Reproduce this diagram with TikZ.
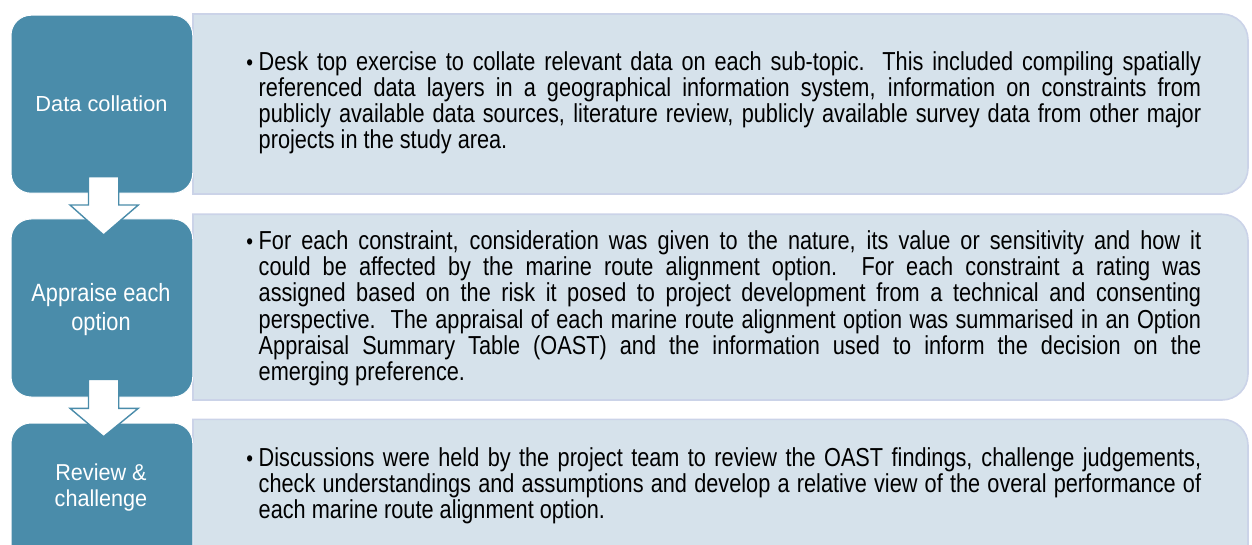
\documentclass[tikz,border=0pt]{standalone}
\usepackage{fontspec}
\setmainfont{Liberation Sans}
\newfontfamily\bodyfont[FakeStretch=0.835]{Liberation Sans}
\newfontfamily\labfontA{Liberation Sans}
\newfontfamily\labfontB[FakeStretch=0.87]{Liberation Sans}
\newfontfamily\labfontC[FakeStretch=0.94]{Liberation Sans}
\definecolor{stepblue}{RGB}{74,140,170}
\definecolor{panelfill}{RGB}{214,226,235}
\definecolor{panelline}{RGB}{203,211,232}
\lineskiplimit=-100pt
\lineskip=0pt
\tikzset{
  stepbox/.style={draw=white, line width=1pt, fill=stepblue, rounded corners=20pt,
    minimum width=181.7pt, minimum height=178pt, inner sep=0pt},
  panel/.style={draw=panelline, line width=1.6pt, fill=panelfill},
  steplabel/.style={text=white, align=center, inner sep=0pt},
  bodytext/.style={anchor=base west, text width=942.5pt, align=justify, inner sep=0pt,
    font=\bodyfont\fontsize{26pt}{#1}\selectfont, text=black},
  downarrow/.style={draw=stepblue, line width=1.4pt, fill=white, line join=miter}
}
\newcommand{\bul}{\leavevmode\lineskiplimit=-100pt\lineskip=0pt\llap{{\fontsize{23pt}{23pt}\selectfont\raisebox{0pt}{•}}\hspace{5.5pt}}}
\begin{document}
\begin{tikzpicture}[x=1pt,y=-1pt]
\useasboundingbox (0,0) rectangle (1252,545);
\clip (0,0) rectangle (1252,545);

% right panels
\path[panel] (193,14) -- (1222,14) arc[start angle=-90,end angle=0,radius=26]
  -- (1248,168) arc[start angle=0,end angle=90,radius=26] -- (193,194) -- cycle;
\path[panel] (193,214.3) -- (1222,214.3) arc[start angle=-90,end angle=0,radius=26]
  -- (1248,374) arc[start angle=0,end angle=90,radius=26] -- (193,400) -- cycle;
\path[panel] (193,419.3) -- (1222,419.3) arc[start angle=-90,end angle=0,radius=26]
  -- (1248,574) arc[start angle=0,end angle=90,radius=26] -- (193,600) -- cycle;

% left step boxes
\node[stepbox] (s1) at (101.9,104.2) {};
\node[stepbox] (s2) at (101.9,308) {};
\node[stepbox] (s3) at (101.9,512) {};

\node[steplabel, anchor=base, font=\labfontA\fontsize{21.8pt}{25pt}\selectfont] (l1) at (101.5,112) {Data collation};
\node[steplabel, font=\labfontB\fontsize{25pt}{28.3pt}\selectfont] (l2) at (101,309.5) {Appraise each\\option};
\node[steplabel, font=\labfontC\fontsize{23pt}{26.7pt}\selectfont] (l3) at (101,487.5) {Review \&\\challenge};

% body texts
\node[bodytext=26pt] (t1) at (258.5,71) {\bul Desk top exercise to collate relevant data on each sub-topic.\ \ This included compiling spatially\linebreak
referenced data layers in a geographical information system, information on constraints from\linebreak
publicly available data sources, literature review, publicly available survey data from other major\linebreak
projects in the study area.};

\node[bodytext=26.2pt] (t2) at (258.5,249.5) {\bul For each constraint, consideration was given to the nature, its value or sensitivity and how it\linebreak
could be affected by the marine route alignment option.\ \ For each constraint a rating was\linebreak
assigned based on the risk it posed to project development from a technical and consenting\linebreak
perspective.\ \ The appraisal of each marine route alignment option was summarised in an Option\linebreak
Appraisal Summary Table (OAST) and the information used to inform the decision on the\linebreak
emerging preference.};

\node[bodytext=26pt] (t3) at (258.5,466) {\bul Discussions were held by the project team to review the OAST findings, challenge judgements,\linebreak
check understandings and assumptions and develop a relative view of the overal performance of\linebreak
each marine route alignment option.};

% block arrows between steps
\path[downarrow] (88.5,176.7) -- (118.7,176.7) -- (118.7,205) -- (138.3,205) -- (103.6,235)
  -- (70,205) -- (88.5,205) -- cycle;
\path[downarrow] (88.5,379.3) -- (118.7,379.3) -- (118.7,408.3) -- (138.3,408.3) -- (103.6,436.7)
  -- (70,408.3) -- (88.5,408.3) -- cycle;
\end{tikzpicture}
\end{document}
